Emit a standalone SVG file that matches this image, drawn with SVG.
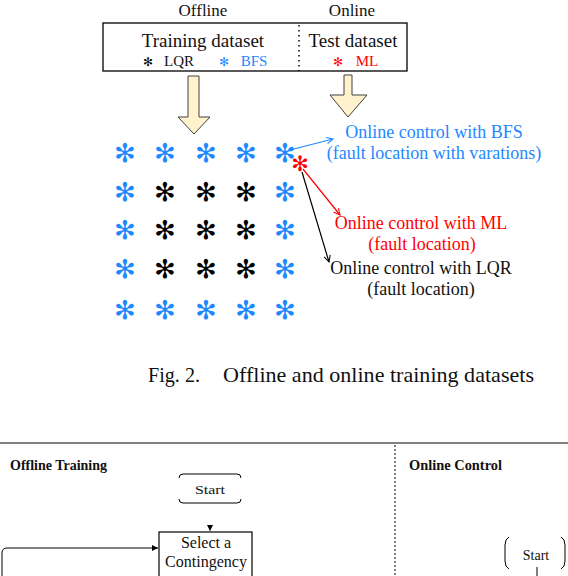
<svg xmlns="http://www.w3.org/2000/svg" width="568" height="576" viewBox="0 0 568 576">
<defs>
<style>
.serif{font-family:"Liberation Serif","Times New Roman",serif;}
.ast{font-family:"DejaVu Sans",sans-serif;font-size:26px;text-anchor:middle;dominant-baseline:central;}
.ast.small{font-size:12px;}
.ast.mid{font-size:21px;}
.blue{fill:#1E88FF;}
.blk{fill:#000;}
.red{fill:#FF0000;}
.barrow{fill:#FFF2CC;stroke:#404040;stroke-width:1;}
.lbl{font-family:"Liberation Serif","Times New Roman",serif;font-size:18px;text-anchor:middle;}
.fc{font-family:"Liberation Serif","Times New Roman",serif;fill:#111;}
</style>
<marker id="mb" viewBox="0 0 10 10" refX="9" refY="5" markerWidth="8" markerHeight="8" orient="auto" markerUnits="userSpaceOnUse"><path d="M1,1 L9,5 L1,9" fill="none" stroke="#1E88FF" stroke-width="1.3"/></marker>
<marker id="mr" viewBox="0 0 10 10" refX="9" refY="5" markerWidth="8" markerHeight="8" orient="auto" markerUnits="userSpaceOnUse"><path d="M1,1 L9,5 L1,9" fill="none" stroke="#FF0000" stroke-width="1.3"/></marker>
<marker id="mk" viewBox="0 0 10 10" refX="9" refY="5" markerWidth="8" markerHeight="8" orient="auto" markerUnits="userSpaceOnUse"><path d="M1,1 L9,5 L1,9" fill="none" stroke="#000" stroke-width="1.3"/></marker>
<marker id="mf" viewBox="0 0 10 10" refX="10" refY="5" markerWidth="6" markerHeight="6" orient="auto" markerUnits="userSpaceOnUse"><path d="M0,0 L10,5 L0,10 Z" fill="#000"/></marker>
</defs>

<!-- Upper figure -->
<g id="headers" class="serif" font-size="17" fill="#111" text-anchor="middle">
<text x="203" y="15.5">Offline</text>
<text x="352" y="15.5">Online</text>
</g>

<g id="dataset-box">
<rect x="103" y="23" width="304" height="48" fill="#fff" stroke="#000" stroke-width="1.3"/>
<line x1="299" y1="25" x2="299" y2="71" stroke="#000" stroke-width="1.5" stroke-dasharray="1.5 3.5"/>
<text class="serif" x="203" y="47" font-size="19" text-anchor="middle" fill="#111">Training dataset</text>
<text class="serif" x="353" y="47" font-size="19" text-anchor="middle" fill="#111">Test dataset</text>
<text class="ast small blk" x="148" y="62">✻</text>
<text class="serif" x="179" y="66" font-size="15" text-anchor="middle" fill="#111">LQR</text>
<text class="ast small blue" x="224" y="62">✻</text>
<text class="serif" x="254" y="66" font-size="15" text-anchor="middle" fill="#1E88FF">BFS</text>
<text class="ast small red" x="338" y="62">✻</text>
<text class="serif" x="367" y="66" font-size="15" text-anchor="middle" fill="#FF0000">ML</text>
</g>

<g id="arrow-offline"><polygon class="barrow" points="188,76 199,76 199,117 210,117 194,134 178,117 188,117"/></g>
<g id="arrow-online"><polygon class="barrow" points="344,75 352,75 352,95 367,95 348,117 330,95 344,95"/></g>

<g id="grid">
<text class="ast blue" x="125" y="153">✻</text>
<text class="ast blue" x="165" y="153">✻</text>
<text class="ast blue" x="206" y="153">✻</text>
<text class="ast blue" x="246" y="153">✻</text>
<text class="ast blue" x="285" y="153">✻</text>
<text class="ast blue" x="125" y="192">✻</text>
<text class="ast blk" x="165" y="192">✻</text>
<text class="ast blk" x="206" y="192">✻</text>
<text class="ast blk" x="246" y="192">✻</text>
<text class="ast blue" x="285" y="192">✻</text>
<text class="ast blue" x="125" y="230">✻</text>
<text class="ast blk" x="165" y="230">✻</text>
<text class="ast blk" x="206" y="230">✻</text>
<text class="ast blk" x="246" y="230">✻</text>
<text class="ast blue" x="285" y="230">✻</text>
<text class="ast blue" x="125" y="269">✻</text>
<text class="ast blk" x="165" y="269">✻</text>
<text class="ast blk" x="206" y="269">✻</text>
<text class="ast blk" x="246" y="269">✻</text>
<text class="ast blue" x="285" y="269">✻</text>
<text class="ast blue" x="125" y="310">✻</text>
<text class="ast blue" x="165" y="310">✻</text>
<text class="ast blue" x="206" y="310">✻</text>
<text class="ast blue" x="246" y="310">✻</text>
<text class="ast blue" x="285" y="310">✻</text>
</g>
<g id="ml-point"><text class="ast mid red" x="300" y="164">✻</text></g>

<g id="connectors" fill="none" stroke-width="1.2">
<line x1="290" y1="150" x2="333" y2="139" stroke="#1E88FF" marker-end="url(#mb)"/>
<line x1="303" y1="169" x2="340" y2="215" stroke="#FF0000" marker-end="url(#mr)"/>
<line x1="302" y1="172" x2="329" y2="262" stroke="#000" marker-end="url(#mk)"/>
</g>

<g id="label-bfs" class="lbl" fill="#1E88FF">
<text x="434" y="138">Online control with BFS</text>
<text x="434" y="159">(fault location with varations)</text>
</g>
<g id="label-ml" class="lbl" fill="#FF0000">
<text x="421" y="229">Online control with ML</text>
<text x="422" y="250">(fault location)</text>
</g>
<g id="label-lqr" class="lbl" fill="#111">
<text x="421" y="274">Online control with LQR</text>
<text x="421" y="295">(fault location)</text>
</g>

<g id="caption" class="serif" font-size="21" fill="#111">
<text x="148" y="382" textLength="52" lengthAdjust="spacingAndGlyphs">Fig. 2.</text>
<text x="223" y="382" textLength="311" lengthAdjust="spacingAndGlyphs">Offline and online training datasets</text>
</g>

<!-- Lower figure -->
<g id="frame">
<line x1="0" y1="443" x2="568" y2="443" stroke="#000" stroke-width="1"/>
<line x1="395" y1="445" x2="395" y2="576" stroke="#000" stroke-width="1" stroke-dasharray="2 2"/>
</g>
<g id="section-offline"><text class="fc" x="10" y="470" font-size="15" font-weight="bold" textLength="97" lengthAdjust="spacingAndGlyphs">Offline Training</text></g>
<g id="section-online"><text class="fc" x="409" y="470" font-size="15" font-weight="bold" textLength="93" lengthAdjust="spacingAndGlyphs">Online Control</text></g>

<g id="start-offline">
<path d="M179,478 Q179,474 183,474 L237,474 Q241,474 241,478 M179,499 Q179,503 183,503 L237,503 Q241,503 241,499" fill="none" stroke="#000" stroke-width="1"/>
<text class="fc" x="210" y="494" font-size="13" text-anchor="middle" fill="#333" textLength="30" lengthAdjust="spacingAndGlyphs">Start</text>
</g>

<g id="select-contingency">
<rect x="159" y="532" width="93" height="60" fill="#fff" stroke="#000" stroke-width="1.2"/>
<text class="fc" x="206" y="548" font-size="16" text-anchor="middle">Select a</text>
<text class="fc" x="206" y="567" font-size="16" text-anchor="middle">Contingency</text>
</g>

<g id="start-online">
<path d="M509,537 Q505,539 505,545 L505,561 Q505,567 509,569 M561,537 Q565,539 565,545 L565,561 Q565,567 561,569" fill="none" stroke="#000" stroke-width="1"/>
<text class="fc" x="536" y="560" font-size="14" text-anchor="middle">Start</text>
</g>

<g id="flow-connectors" fill="none" stroke="#000" stroke-width="1">
<line x1="210" y1="525" x2="210" y2="531" marker-end="url(#mf)" stroke-width="0.5"/>
<path d="M2,576 L2,553 Q2,548 7,548 L158,548" marker-end="url(#mf)"/>
<line x1="537" y1="567" x2="537" y2="576"/>
</g>
</svg>
